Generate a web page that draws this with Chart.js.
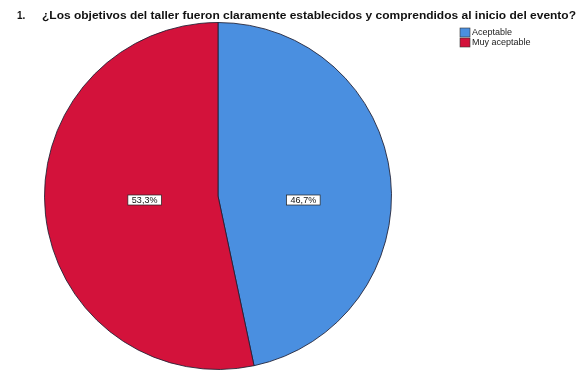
<!DOCTYPE html>
<html lang="es">
  <head>
    <meta charset="UTF-8" />
    <title>Objetivos del taller</title>
    <script src="https://cdn.jsdelivr.net/npm/chart.js@4"></script>
    <style>
      html,
      body {
        margin: 0;
        padding: 0;
        background: #fff;
      }
      #wrap {
        width: 579px;
        height: 377px;
      }
    </style>
  </head>
  <body>
    <div id="wrap">
      <canvas id="chart"></canvas>
    </div>
  </body>

  <script>
    const title =
      "¿Los objetivos del taller fueron claramente establecidos y comprendidos al inicio del evento?";
    const labels = ["Aceptable", "Muy aceptable"];
    const percents = [46.67, 53.33];
    const colors = ["#4a8fe0", "#d3123b"];

    // question heading, legend and the boxed percentage on each slice
    const decorations = {
      id: "decorations",
      afterDraw(chart) {
        const ctx = chart.ctx;
        ctx.save();

        ctx.fillStyle = "#111";
        ctx.font = "bold 10px 'Liberation Sans', Arial, sans-serif";
        ctx.textBaseline = "middle";
        ctx.fillText("1.", 17, 16);
        // the heading is stretched sideways to span the page
        const tw = ctx.measureText(title).width;
        ctx.save();
        ctx.translate(42, 16);
        ctx.scale(534 / tw, 1);
        ctx.fillText(title, 0, 0);
        ctx.restore();

        ctx.font = "9px 'Liberation Sans', Arial, sans-serif";
        labels.forEach((label, i) => {
          const y = 28 + i * 10;
          ctx.fillStyle = colors[i];
          ctx.fillRect(460, y, 10, 9);
          ctx.strokeStyle = "#333";
          ctx.lineWidth = 0.6;
          ctx.strokeRect(460, y, 10, 9);
          ctx.fillStyle = "#222";
          ctx.fillText(label, 472, y + 5);
        });

        const meta = chart.getDatasetMeta(0);
        meta.data.forEach((arc, i) => {
          const mid = (arc.startAngle + arc.endAngle) / 2;
          const r = arc.outerRadius * 0.46;
          const x = arc.x + Math.cos(mid) * r + 6;
          const y = arc.y + 4;
          const text = percents[i].toFixed(1).replace(".", ",") + "%";
          ctx.font = "9px 'Liberation Sans', Arial, sans-serif";
          const w = ctx.measureText(text).width + 8;
          const h = 10;
          ctx.fillStyle = "#fff";
          ctx.fillRect(x - w / 2, y - h / 2, w, h);
          ctx.strokeStyle = "#222";
          ctx.lineWidth = 0.7;
          ctx.strokeRect(x - w / 2, y - h / 2, w, h);
          ctx.fillStyle = "#111";
          ctx.textAlign = "center";
          ctx.fillText(text, x, y + 0.5);
          ctx.textAlign = "left";
        });

        ctx.restore();
      },
    };

    const config = {
      type: "pie",
      data: {
        labels: labels,
        datasets: [
          {
            data: percents,
            backgroundColor: colors,
            borderColor: "rgba(30,30,50,0.85)",
            borderWidth: 1,
          },
        ],
      },
      options: {
        responsive: true,
        maintainAspectRatio: false,
        animation: false,
        layout: {
          padding: { left: 44, right: 187, top: 22, bottom: 7 },
        },
        plugins: {
          legend: { display: false },
          title: { display: false },
          tooltip: { enabled: false },
        },
      },
      plugins: [decorations],
    };

    const chart = new Chart(document.getElementById("chart"), config);
  </script>
</html>
